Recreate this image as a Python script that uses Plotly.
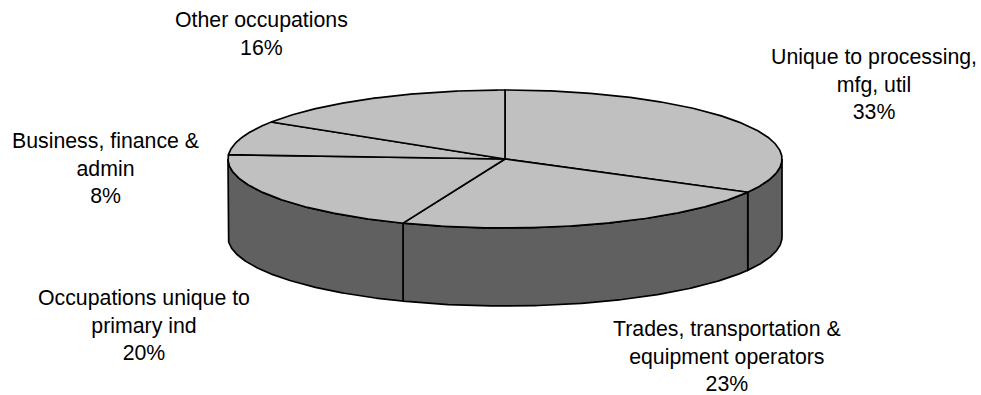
import numpy as np
import plotly.graph_objects as go

# ---- data ----
categories = [
    "Unique to processing,<br>mfg, util",
    "Trades, transportation &<br>equipment operators",
    "Occupations unique to<br>primary ind",
    "Business, finance &<br>admin",
    "Other occupations",
]
values = [33, 23, 20, 8, 16]

# ---- layout / style (pixel geometry of the 3D pie) ----
W, H = 981, 395
CX, CY, RX, RY, DEPTH = 505, 159, 277, 69, 78
TOP_COLOR = "#c0c0c0"
SIDE_COLOR = "#606060"
EDGE = dict(color="black", width=1.7)
FONT = dict(family="Liberation Sans, Arial, sans-serif", size=21.3, color="black")
label_pos = [(874, 84), (727, 356), (144, 325), (105, 168), (261, 34)]


def ell(theta_deg, dy=0.0):
    t = np.radians(theta_deg)
    return CX + RX * np.sin(t), CY - RY * np.cos(t) + dy


total = float(sum(values))
bounds = np.concatenate([[0.0], np.cumsum(values) / total * 360.0])

fig = go.Figure()

# side faces (only the front half of the rim, 90..270 deg clockwise from top)
for i in range(len(values)):
    a, b = max(bounds[i], 90.0), min(bounds[i + 1], 270.0)
    if b <= a:
        continue
    th = np.linspace(a, b, 120)
    xt, yt = ell(th)
    xb, yb = ell(th[::-1], DEPTH)
    xs = np.concatenate([xt, xb, xt[:1]])
    ys = np.concatenate([yt, yb, yt[:1]])
    fig.add_trace(go.Scatter(x=xs, y=ys, mode="lines", fill="toself",
                             fillcolor=SIDE_COLOR, line=EDGE,
                             hoverinfo="skip", showlegend=False))

# top faces
for i in range(len(values)):
    th = np.linspace(bounds[i], bounds[i + 1], 200)
    xt, yt = ell(th)
    xs = np.concatenate([[CX], xt, [CX]])
    ys = np.concatenate([[CY], yt, [CY]])
    fig.add_trace(go.Scatter(x=xs, y=ys, mode="lines", fill="toself",
                             fillcolor=TOP_COLOR, line=EDGE,
                             hoverinfo="skip", showlegend=False))

# labels
for cat, v, (lx, ly) in zip(categories, values, label_pos):
    pct = round(v / total * 100)
    fig.add_annotation(x=lx, y=ly, xref="x", yref="y",
                       text=f"{cat}<br>{pct}%", showarrow=False,
                       xanchor="center", yanchor="middle", align="center",
                       font=FONT)

fig.update_layout(
    width=W, height=H, autosize=False,
    margin=dict(l=0, r=0, t=0, b=0, pad=0),
    paper_bgcolor="white", plot_bgcolor="white",
    xaxis=dict(range=[0, W], visible=False, fixedrange=True),
    yaxis=dict(range=[H, 0], visible=False, fixedrange=True),
    showlegend=False,
)

fig.write_html("out.html")
